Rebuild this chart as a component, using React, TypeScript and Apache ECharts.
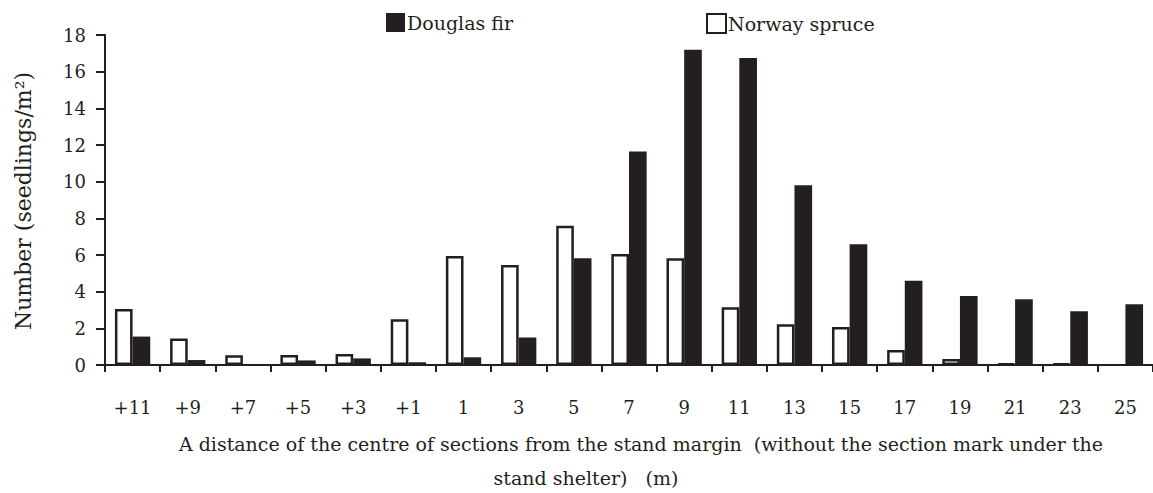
import React, { useEffect, useRef } from "react";
import * as echarts from "echarts";

const categories = ["+11", "+9", "+7", "+5", "+3", "+1", "1", "3", "5", "7", "9", "11", "13", "15", "17", "19", "21", "23", "25"];
const norwaySpruce = [3.05, 1.45, 0.53, 0.55, 0.6, 2.5, 5.95, 5.45, 7.6, 6.05, 5.82, 3.15, 2.22, 2.07, 0.82, 0.33, 0.08, 0.07, 0];
const douglasFir = [1.55, 0.27, 0, 0.25, 0.36, 0.15, 0.42, 1.5, 5.82, 11.65, 17.2, 16.75, 9.8, 6.58, 4.6, 3.76, 3.58, 2.93, 3.31];
const yMax = 18;
const yInterval = 2;

const INK = "#231f20";
const FONT = "'DejaVu Serif', serif";

export default function App() {
  const ref = useRef<HTMLDivElement>(null);
  useEffect(() => {
    if (!ref.current) return;
    const chart = echarts.init(ref.current, null, { renderer: "svg" });
    const legendBase = {
      icon: "rect",
      top: 8,
      itemWidth: 19,
      itemHeight: 19,
      itemGap: 4,
      textStyle: { fontFamily: FONT, fontSize: 19, color: INK, padding: [0, 0, 0, -3] },
    };
    chart.setOption({
      animation: false,
      textStyle: { fontFamily: FONT, color: INK },
      grid: { left: 105, right: 0, top: 35, bottom: 128, containLabel: false },
      legend: [
        { ...legendBase, data: ["Douglas fir"], left: 381 },
        { ...legendBase, data: ["Norway spruce"], left: 701 },
      ],
      xAxis: {
        type: "category",
        data: categories,
        axisLine: { lineStyle: { color: INK, width: 2 } },
        axisTick: { show: true, interval: 0, length: 7, lineStyle: { color: INK, width: 2 } },
        axisLabel: { interval: 0, margin: 33, fontSize: 18, color: INK, fontFamily: FONT },
        splitLine: { show: false },
      },
      yAxis: {
        type: "value",
        min: 0,
        max: yMax,
        interval: yInterval,
        axisLine: { show: true, lineStyle: { color: INK, width: 2 } },
        axisTick: { show: true, length: 9, lineStyle: { color: INK, width: 2 } },
        axisLabel: { margin: 19, fontSize: 18, color: INK, fontFamily: FONT },
        splitLine: { show: false },
      },
      series: [
        {
          name: "Norway spruce",
          type: "bar",
          data: norwaySpruce.map((v) => ({ value: v, itemStyle: { borderWidth: v === 0 ? 0 : 2.5 } })),
          barGap: "0%",
          barCategoryGap: "36%",
          itemStyle: { color: "#ffffff", borderColor: INK, borderWidth: 2.5 },
        },
        {
          name: "Douglas fir",
          type: "bar",
          data: douglasFir,
          barGap: "0%",
          barCategoryGap: "36%",
          itemStyle: { color: INK },
        },
      ],
      graphic: [
        {
          type: "text",
          x: 23,
          y: 201,
          rotation: Math.PI / 2,
          style: {
            text: "Number (seedlings/m²)",
            fontFamily: FONT,
            fontSize: 22,
            fill: INK,
            align: "center",
            verticalAlign: "middle",
          },
        },
        {
          type: "text",
          x: 641,
          y: 444,
          style: {
            text: "A distance of the centre of sections from the stand margin  (without the section mark under the",
            fontFamily: FONT,
            fontSize: 19,
            fill: INK,
            align: "center",
            verticalAlign: "middle",
          },
        },
        {
          type: "text",
          x: 586,
          y: 478,
          style: {
            text: "stand shelter)   (m)",
            fontFamily: FONT,
            fontSize: 19,
            fill: INK,
            align: "center",
            verticalAlign: "middle",
          },
        },
      ],
    });
    return () => chart.dispose();
  }, []);
  return <div ref={ref} style={{ width: 1153, height: 493, position: "absolute", left: 0, top: 0 }} />;
}
